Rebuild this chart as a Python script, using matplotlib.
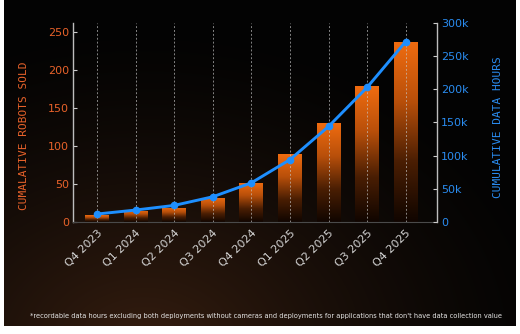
import numpy as np
import matplotlib
matplotlib.use('Agg')
import matplotlib.pyplot as plt
from matplotlib.colors import LinearSegmentedColormap

# --- data ---
quarters = ['Q4 2023', 'Q1 2024', 'Q2 2024', 'Q3 2024', 'Q4 2024',
            'Q1 2025', 'Q2 2025', 'Q3 2025', 'Q4 2025']
robots_sold = [9, 15, 19, 32, 52, 89, 130, 179, 237]
data_hours = [12000, 18000, 25000, 38000, 59000, 94000, 144000, 203000, 272000]
left_ticks = [0, 50, 100, 150, 200, 250]
right_ticks = [0, 50000, 100000, 150000, 200000, 250000, 300000]
right_tick_labels = ['0', '50k', '100k', '150k', '200k', '250k', '300k']
footnote = ("*recordable data hours excluding both deployments without cameras "
            "and deployments for applications that don't have data collection value")

ORANGE = '#e8622a'
BLUE = '#2a8cf0'
LINE_BLUE = '#1e8fff'
W, H = 520, 334

fig = plt.figure(figsize=(W / 100, H / 100), dpi=100, facecolor='white')

# --- dark panel with warm glow in the lower left ---
bg = fig.add_axes([4 / W, 8 / H, 512 / W, 326 / H])
bg.set_axis_off()
yy, xx = np.mgrid[0:326, 0:512]
d = np.hypot((xx - 140) / 1.3, yy - 350)
glow = np.clip(1 - d / 330, 0, 1) ** 1.4
base = np.array([0.012, 0.012, 0.012])
warm = np.array([0.20, 0.105, 0.05])
img = base + glow[..., None] * warm
bg.imshow(img, extent=(0, 1, 0, 1), aspect='auto', origin='upper')

# --- main axes ---
ax = fig.add_axes([73 / W, 1 - 222 / H, 364 / W, 199 / H])
ax.set_facecolor('none')
x = np.arange(len(quarters))
bar_w = 0.62

bar_cmap = LinearSegmentedColormap.from_list(
    'bar', ['#100500', '#4a1e03', '#b84f0a', '#f06c10'])
grad = np.linspace(0, 1, 256).reshape(-1, 1)
bars = ax.bar(x, robots_sold, width=bar_w, color='none', zorder=2)
for rect in bars:
    x0, w_, h_ = rect.get_x(), rect.get_width(), rect.get_height()
    im = ax.imshow(grad, cmap=bar_cmap, origin='lower', aspect='auto',
                   extent=(x0, x0 + w_, 0, h_), zorder=2)
    im.set_clip_path(rect)

ax.set_xlim(-0.62, 8.81)
ax.set_ylim(0, 262)
ax.set_yticks(left_ticks)
ax.set_xticks(x)
ax.set_xticklabels(quarters, rotation=45, ha='right', rotation_mode='anchor')

for xi in x:
    ax.axvline(xi, color='#c8c8c8', lw=0.7, ls=(0, (2, 2)), alpha=0.65, zorder=3)

for side in ['top', 'right']:
    ax.spines[side].set_visible(False)
ax.spines['left'].set_color('#bdbdbd')
ax.spines['left'].set_linewidth(1.0)
ax.spines['bottom'].set_color('#4a4a4a')
ax.spines['bottom'].set_linewidth(0.8)

ax.tick_params(axis='y', direction='in', length=3, width=0.8, color='#cccccc',
               labelcolor=ORANGE, labelsize=8, pad=3)
ax.tick_params(axis='x', direction='in', length=3, width=0.8, color='#dddddd',
               labelcolor='#d4d4d4', labelsize=8, pad=4)

ax.set_ylabel('CUMALATIVE ROBOTS SOLD', color=ORANGE, fontsize=8,
              family='DejaVu Sans Mono', va='center')
ax.yaxis.set_label_coords(-0.135, 0.435)

# --- data hours on the right axis ---
ax2 = ax.twinx()
ax2.plot(x, data_hours, color=LINE_BLUE, lw=2.1, marker='o', ms=4.5, zorder=5)
ax2.set_ylim(0, 300000)
ax2.set_yticks(right_ticks)
ax2.set_yticklabels(right_tick_labels)
for side in ['top', 'left', 'bottom']:
    ax2.spines[side].set_visible(False)
ax2.spines['right'].set_color('#bdbdbd')
ax2.spines['right'].set_linewidth(1.0)
ax2.tick_params(axis='y', direction='in', length=3, width=0.8, color='#cccccc',
                labelcolor=BLUE, labelsize=8, pad=3)
ax2.set_ylabel('CUMULATIVE DATA HOURS', color=BLUE, fontsize=8,
               family='DejaVu Sans Mono', rotation=90, va='center')
ax2.yaxis.set_label_coords(1.168, 0.475)

fig.text(0.5125, 1 - 316 / H, footnote, color='#e6e6e6', fontsize=4.8,
         ha='center', va='center')

fig.savefig('out.png', dpi=100, facecolor='white')
